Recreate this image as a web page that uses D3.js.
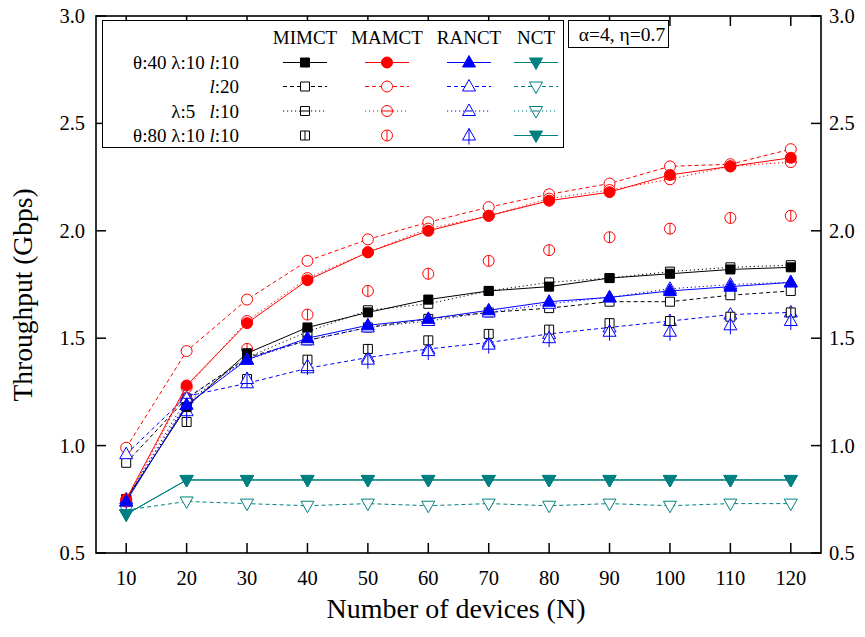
<!DOCTYPE html>
<html>
<head>
<meta charset="utf-8">
<script src="https://cdn.jsdelivr.net/npm/d3@7"></script>
<style>
  html, body { margin: 0; padding: 0; background: #fff; }
  svg { display: block; font-family: "Liberation Serif", "Times New Roman", serif; }
</style>
</head>
<body>
<svg id="chart" width="865" height="637"></svg>
<script>
// x values
const devices = [10, 20, 30, 40, 50, 60, 70, 80, 90, 100, 110, 120];
const xTicks = devices;
const yTicks = [0.5, 1.0, 1.5, 2.0, 2.5, 3.0];

const algorithms = ['MIMCT', 'MAMCT', 'RANCT', 'NCT'];
const configLabels = ['θ:40 λ:10 l:10', 'l:20', 'λ:5   l:10', 'θ:80 λ:10 l:10'];

// MIMCT
const mimctBase    = [0.75, 1.18, 1.43, 1.55, 1.62, 1.68, 1.72, 1.74, 1.78, 1.80, 1.82, 1.83];
const mimctL20     = [0.92, 1.22, 1.41, 1.49, 1.55, 1.59, 1.62, 1.64, 1.67, 1.67, 1.70, 1.72];
const mimctLam5    = [0.75, 1.20, 1.41, 1.53, 1.63, 1.66, 1.72, 1.76, 1.78, 1.81, 1.83, 1.84];
const mimctTheta80 = [0.74, 1.11, 1.31, 1.40, 1.45, 1.49, 1.52, 1.54, 1.57, 1.58, 1.60, 1.62];
// MAMCT
const mamctBase    = [0.75, 1.28, 1.57, 1.77, 1.90, 2.00, 2.07, 2.14, 2.18, 2.26, 2.30, 2.34];
const mamctL20     = [0.99, 1.44, 1.68, 1.86, 1.96, 2.04, 2.11, 2.17, 2.22, 2.30, 2.31, 2.38];
const mamctLam5    = [0.74, 1.27, 1.58, 1.78, 1.90, 2.01, 2.07, 2.15, 2.19, 2.24, 2.30, 2.32];
const mamctTheta80 = [0.74, 1.21, 1.45, 1.61, 1.72, 1.80, 1.86, 1.91, 1.97, 2.01, 2.06, 2.07];
// RANCT
const ranctBase    = [0.74, 1.19, 1.40, 1.50, 1.56, 1.59, 1.63, 1.67, 1.69, 1.72, 1.74, 1.76];
const ranctL20     = [0.96, 1.23, 1.29, 1.36, 1.41, 1.45, 1.48, 1.52, 1.55, 1.58, 1.61, 1.62];
const ranctLam5    = [0.75, 1.22, 1.40, 1.49, 1.55, 1.58, 1.62, 1.66, 1.69, 1.73, 1.75, 1.76];
const ranctTheta80 = [0.74, 1.16, 1.31, 1.37, 1.40, 1.44, 1.47, 1.50, 1.53, 1.53, 1.56, 1.58];
// NCT
const nctBase      = [0.68, 0.84, 0.84, 0.84, 0.84, 0.84, 0.84, 0.84, 0.84, 0.84, 0.84, 0.84];
const nctL20       = [0.70, 0.74, 0.73, 0.72, 0.73, 0.72, 0.73, 0.72, 0.73, 0.72, 0.73, 0.73];
const nctLam5      = [0.68, 0.84, 0.84, 0.84, 0.84, 0.84, 0.84, 0.84, 0.84, 0.84, 0.84, 0.84];
const nctTheta80   = [0.68, 0.84, 0.84, 0.84, 0.84, 0.84, 0.84, 0.84, 0.84, 0.84, 0.84, 0.84];

const seriesValues = {
  MIMCT: [mimctBase, mimctL20, mimctLam5, mimctTheta80],
  MAMCT: [mamctBase, mamctL20, mamctLam5, mamctTheta80],
  RANCT: [ranctBase, ranctL20, ranctLam5, ranctTheta80],
  NCT:   [nctBase, nctL20, nctLam5, nctTheta80]
};

// styles
const colors = { MIMCT: '#000000', MAMCT: '#ff0000', RANCT: '#0000ff', NCT: '#008080' };
const shapes = { MIMCT: 'square', MAMCT: 'circle', RANCT: 'tri-up', NCT: 'tri-down' };
// per config: line dash, marker fill, inner mark
const configStyle = [
  { dash: null,      filled: true,  inner: null, line: true },
  { dash: '4,3',     filled: false, inner: null, line: true },
  { dash: '1.2,2.8', filled: false, inner: 'h',  line: true },
  { dash: null,      filled: false, inner: 'v',  line: false }
];

const M = { left: 96, right: 821, top: 16, bottom: 553 };

const svg = d3.select('#chart');
const x = d3.scaleLinear().domain([5, 125]).range([M.left, M.right]);
const y = d3.scaleLinear().domain([0.5, 3.0]).range([M.bottom, M.top]);

function shapePath(shape) {
  switch (shape) {
    case 'square': return 'M-4.5,-4.5H4.5V4.5H-4.5Z';
    case 'circle': return 'M5.5,0A5.5,5.5 0 1,1 -5.5,0A5.5,5.5 0 1,1 5.5,0Z';
    case 'tri-up': return 'M0,-7L6.5,4.5L-6.5,4.5Z';
    case 'tri-down': return 'M0,7L6.5,-4.5L-6.5,-4.5Z';
  }
}
function innerPath(shape, inner) {
  if (!inner) return null;
  if (inner === 'h') {
    if (shape === 'square') return 'M-4.5,0H4.5';
    if (shape === 'circle') return 'M-5.5,0H5.5';
    return 'M-3.3,0H3.3';
  }
  if (shape === 'square') return 'M0,-4.5V4.5';
  if (shape === 'circle') return 'M0,-5.5V5.5';
  if (shape === 'tri-up') return 'M0,-7V9';
  return 'M0,7V-9';
}
function drawMarker(g, cx, cy, alg, cfg) {
  const col = colors[alg];
  const st = configStyle[cfg];
  const m = g.append('g').attr('transform', `translate(${cx},${cy})`);
  m.append('path')
    .attr('d', shapePath(shapes[alg]))
    .attr('fill', st.filled ? col : '#fff')
    .attr('stroke', col)
    .attr('stroke-width', 1);
  const ip = innerPath(shapes[alg], st.inner);
  if (ip) m.append('path').attr('d', ip).attr('stroke', col).attr('stroke-width', 1).attr('fill', 'none');
}

// frame + ticks
const axes = svg.append('g');
axes.append('rect')
  .attr('x', M.left).attr('y', M.top)
  .attr('width', M.right - M.left).attr('height', M.bottom - M.top)
  .attr('fill', 'none').attr('stroke', '#000').attr('stroke-width', 1.6);

const tickLen = 10;
xTicks.forEach(t => {
  axes.append('line').attr('x1', x(t)).attr('x2', x(t)).attr('y1', M.bottom).attr('y2', M.bottom - tickLen)
    .attr('stroke', '#000').attr('stroke-width', 1.5);
  axes.append('line').attr('x1', x(t)).attr('x2', x(t)).attr('y1', M.top).attr('y2', M.top + tickLen)
    .attr('stroke', '#000').attr('stroke-width', 1.5);
  axes.append('text').attr('x', x(t)).attr('y', 584.5).attr('text-anchor', 'middle')
    .attr('font-size', 20.5).text(t);
});
yTicks.forEach(t => {
  axes.append('line').attr('x1', M.left).attr('x2', M.left + tickLen).attr('y1', y(t)).attr('y2', y(t))
    .attr('stroke', '#000').attr('stroke-width', 1.5);
  axes.append('line').attr('x1', M.right).attr('x2', M.right - tickLen).attr('y1', y(t)).attr('y2', y(t))
    .attr('stroke', '#000').attr('stroke-width', 1.5);
  axes.append('text').attr('x', 85).attr('y', y(t) + 7).attr('text-anchor', 'end')
    .attr('font-size', 20.5).text(t.toFixed(1));
  axes.append('text').attr('x', 829).attr('y', y(t) + 7).attr('text-anchor', 'start')
    .attr('font-size', 20.5).text(t.toFixed(1));
});

axes.append('text').attr('transform', `translate(32,295) rotate(-90)`)
  .attr('text-anchor', 'middle').attr('font-size', 27.5).text('Throughput (Gbps)');
axes.append('text').attr('x', 456).attr('y', 618)
  .attr('text-anchor', 'middle').attr('font-size', 28).text('Number of devices (N)');

// data
const plot = svg.append('g');
const line = d3.line().x((d, i) => x(devices[i])).y(d => y(d));

// draw l:20 and theta:80 first, then lambda:5 and base on top
const drawOrder = [1, 3, 2, 0];
drawOrder.forEach(cfg => {
  algorithms.forEach(alg => {
    const vals = seriesValues[alg][cfg];
    const st = configStyle[cfg];
    const hasLine = st.line || alg === 'NCT';
    if (hasLine) {
      plot.append('path').datum(vals)
        .attr('d', line)
        .attr('fill', 'none')
        .attr('stroke', colors[alg])
        .attr('stroke-width', 1)
        .attr('stroke-dasharray', st.dash);
    }
    vals.forEach((v, i) => {
      if (alg === 'NCT' && cfg === 3) drawMarker(plot, x(devices[i]), y(v), alg, 0);
      else drawMarker(plot, x(devices[i]), y(v), alg, cfg);
    });
  });
});

// legend
const lg = svg.append('g');
lg.append('rect').attr('x', 102.5).attr('y', 20.5).attr('width', 461).attr('height', 127)
  .attr('fill', '#fff').attr('stroke', '#000').attr('stroke-width', 1);

const colX = [305, 387, 469, 536];
algorithms.forEach((alg, j) => {
  lg.append('text').attr('x', colX[j]).attr('y', 44).attr('text-anchor', 'middle')
    .attr('font-size', 19).text(alg);
});
const rowY = [62.5, 86.5, 111, 135.5];
configLabels.forEach((lab, r) => {
  const t = lg.append('text').attr('x', 239).attr('y', rowY[r] + 6.5).attr('text-anchor', 'end')
    .attr('font-size', 19).style('white-space', 'pre');
  // italic "l"
  const parts = lab.split('l:');
  t.append('tspan').text(parts[0]);
  t.append('tspan').attr('font-style', 'italic').text('l');
  t.append('tspan').text(':' + parts[1]);
  algorithms.forEach((alg, j) => {
    const st = configStyle[r];
    const cx = colX[j];
    const hasLine = st.line || alg === 'NCT';
    const useCfg = (alg === 'NCT' && r === 3) ? 0 : r;
    if (hasLine) {
      lg.append('line').attr('x1', cx - 22).attr('x2', cx + 22).attr('y1', rowY[r]).attr('y2', rowY[r])
        .attr('stroke', colors[alg]).attr('stroke-width', 1)
        .attr('stroke-dasharray', configStyle[useCfg].dash);
    }
    drawMarker(lg, cx, rowY[r], alg, useCfg);
  });
});

// parameter box
lg.append('rect').attr('x', 568.5).attr('y', 20.5).attr('width', 100).attr('height', 27)
  .attr('fill', '#fff').attr('stroke', '#000').attr('stroke-width', 1);
lg.append('text').attr('x', 622).attr('y', 40.5).attr('text-anchor', 'middle')
  .attr('font-size', 19.5).text('α=4, η=0.7');
</script>
</body>
</html>
